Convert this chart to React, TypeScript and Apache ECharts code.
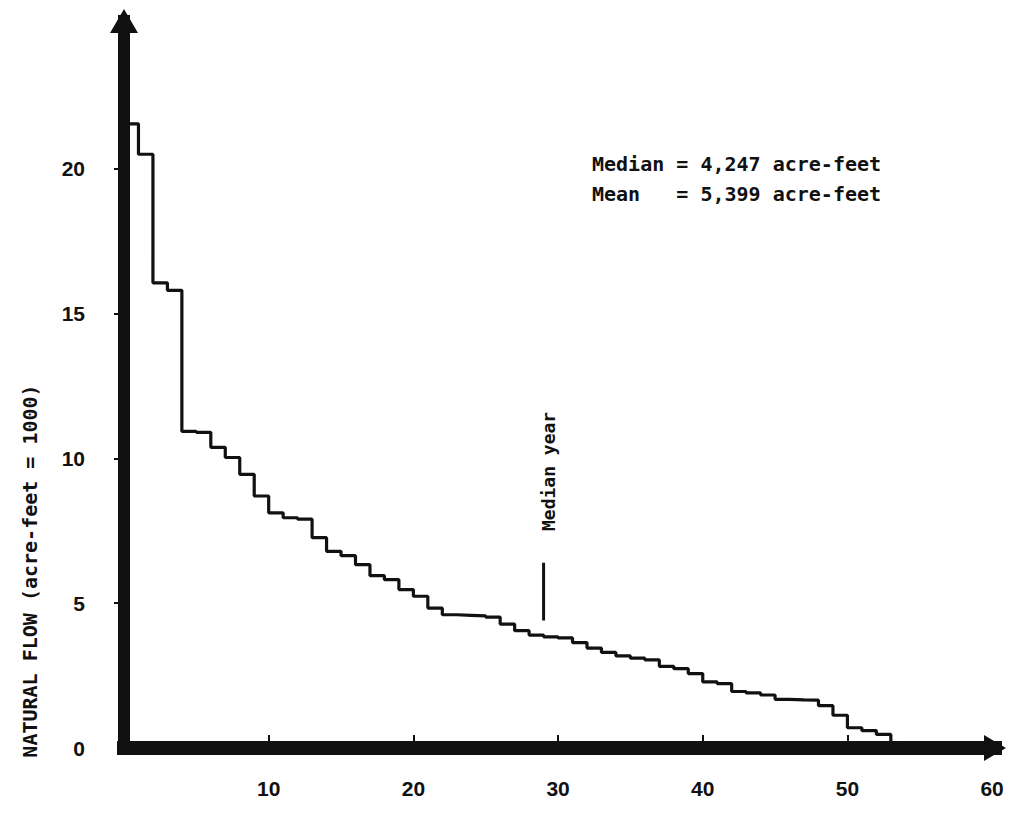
import React, { useEffect, useRef } from "react";
import * as echarts from "echarts";

// Ranked annual natural flow (acre-feet ÷ 1000), largest to smallest
const flowValues: number[] = [
  21.55, 20.5, 16.06, 15.8, 10.93, 10.9, 10.38, 10.03, 9.45, 8.7,
  8.12, 7.95, 7.9, 7.26, 6.79, 6.64, 6.33, 5.95, 5.81, 5.47,
  5.24, 4.83, 4.6, 4.58, 4.56, 4.52, 4.28, 4.05, 3.9, 3.84,
  3.8, 3.64, 3.45, 3.3, 3.18, 3.1, 3.04, 2.82, 2.74, 2.57,
  2.28, 2.22, 1.95, 1.9, 1.83, 1.68, 1.66, 1.65, 1.46, 1.13,
  0.7, 0.6, 0.47, 0.1, 0.05, 0.05,
];

const xTickLabels: number[] = [10, 20, 30, 40, 50, 60];
const yTickLabels: number[] = [0, 5, 10, 15, 20];

const medianYear = 29;
const medianMarkerRange: number[] = [4.4, 6.4];
const medianLabelPoint: number[] = [29.35, 9.55];

const yAxisTitle = "NATURAL FLOW (acre-feet = 1000)";
const statLines: string[][] = [
  ["Median", "= 4,247 acre-feet"],
  ["Mean", "= 5,399 acre-feet"],
];
const medianLabel = "Median year";

const INK = "#111111";
const MONO = '"DejaVu Sans Mono", "Liberation Mono", monospace';
const SANS = '"Liberation Sans", Arial, sans-serif';

export default function App() {
  const ref = useRef<HTMLDivElement>(null);

  useEffect(() => {
    if (!ref.current) return;
    const chart = echarts.init(ref.current, null, { renderer: "svg" });

    const stepData: number[][] = flowValues.map((v, i) => [i, v]);
    stepData.push([flowValues.length, flowValues[flowValues.length - 1]]);

    chart.setOption({
      animation: false,
      backgroundColor: "#ffffff",
      grid: { left: 124, right: 15, top: 21, bottom: 69, containLabel: false },
      xAxis: {
        type: "value",
        min: 0,
        max: 60.2,
        interval: 10,
        axisLine: {
          show: true,
          symbol: ["none", "triangle"],
          symbolSize: [26, 22],
          lineStyle: { color: INK, width: 14, cap: "square" },
        },
        axisTick: {
          show: true,
          inside: true,
          length: 13,
          customValues: xTickLabels.filter((v) => v < 60),
          lineStyle: { color: INK, width: 2 },
        },
        axisLabel: {
          customValues: xTickLabels,
          formatter: (v: number) => (xTickLabels.includes(v) ? String(v) : ""),
          margin: 30,
          color: INK,
          fontSize: 21,
          fontWeight: "bold",
          fontFamily: SANS,
        },
        splitLine: { show: false },
      },
      yAxis: {
        type: "value",
        min: 0,
        max: 25.1,
        interval: 5,
        axisLine: {
          show: true,
          symbol: ["none", "triangle"],
          symbolSize: [28, 24],
          lineStyle: { color: INK, width: 12, cap: "square" },
        },
        axisTick: {
          show: true,
          length: 10,
          customValues: yTickLabels.filter((v) => v > 0),
          lineStyle: { color: INK, width: 2 },
        },
        axisLabel: {
          customValues: yTickLabels,
          formatter: (v: number) => (yTickLabels.includes(v) ? String(v) : ""),
          margin: 39,
          color: INK,
          fontSize: 21,
          fontWeight: "bold",
          fontFamily: SANS,
        },
        splitLine: { show: false },
      },
      series: [
        {
          type: "line",
          step: "end",
          data: stepData,
          symbol: "none",
          lineStyle: { color: INK, width: 3.2 },
          silent: true,
          z: 1,
        },
        {
          type: "line",
          data: medianMarkerRange.map((v) => [medianYear, v]),
          symbol: "none",
          lineStyle: { color: INK, width: 3 },
          silent: true,
        },
        {
          type: "scatter",
          data: [medianLabelPoint],
          symbolSize: 0,
          silent: true,
          itemStyle: { opacity: 1, color: INK },
          label: {
            show: true,
            position: "inside",
            rotate: 90,
            formatter: medianLabel,
            color: INK,
            opacity: 1,
            fontSize: 18,
            fontWeight: "bold",
            fontFamily: MONO,
          },
        },
      ],
      graphic: [
        {
          type: "text",
          x: 30,
          y: 571,
          rotation: Math.PI / 2,
          style: {
            text: yAxisTitle,
            fill: INK,
            fontSize: 20,
            fontWeight: "bold",
            fontFamily: MONO,
            align: "center",
            verticalAlign: "middle",
          },
        },
        ...statLines.flatMap((line, i) => [
          {
            type: "text",
            x: 592,
            y: 164 + i * 30,
            style: {
              text: line[0],
              fill: INK,
              fontSize: 20,
              fontWeight: "bold",
              fontFamily: MONO,
              align: "left",
              verticalAlign: "middle",
            },
          },
          {
            type: "text",
            x: 592 + 12.05 * 7,
            y: 164 + i * 30,
            style: {
              text: line[1],
              fill: INK,
              fontSize: 20,
              fontWeight: "bold",
              fontFamily: MONO,
              align: "left",
              verticalAlign: "middle",
            },
          },
        ]),
      ],
    });

    return () => chart.dispose();
  }, []);

  return (
    <div
      ref={ref}
      style={{ position: "fixed", left: 0, top: 0, width: 1010, height: 817, background: "#fff" }}
    />
  );
}
